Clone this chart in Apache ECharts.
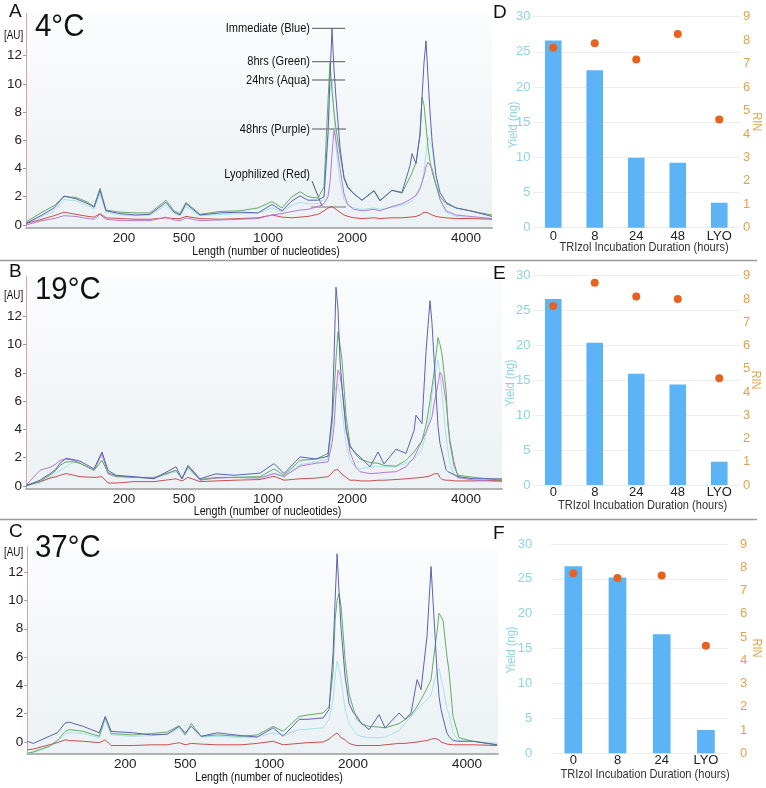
<!DOCTYPE html>
<html><head><meta charset="utf-8">
<script src="https://cdn.jsdelivr.net/npm/echarts@6/dist/echarts.min.js"></script>
<style>html,body{margin:0;padding:0;background:#fff}#c{width:766px;height:788px}</style>
</head><body><div id="c"></div><script>
const F = '"Liberation Sans",Arial,sans-serif';
const NARROW = 0.82;

// x-axis ladder labels (electropherogram migration positions)
const tickPos = [49, 79, 121, 163, 220];
const tickLabels = ['200', '500', '1000', '2000', '4000'];
const auTicks = [0, 2, 4, 6, 8, 10, 12];

// Panel A (4°C)
const tA = [0,8,14,19,25,31,34,37,40,47,55,62,70,74,77,80,87,97,107,116,123,128,133,137,141,146,149,151,152,153,154,155,157,159,161,164,168,174,177,183,188,192,193,195,197,198,199,200,201,202,203,205,207,210,215,222,233];
const blueA = [0.1,0.7,1.2,2.05,1.85,1.5,1.25,2.45,1.0,0.8, 0.7,0.75,1.6,0.9,0.7,1.5,0.7,0.85,0.9,0.85, 1.45,1.0,1.7,2.05,1.75,1.75,2.0,6.5,10.5,13.9, 11.0,9.0,5.5,3.3,2.6,2.2,1.75,2.4,1.7,2.45, 2.3,4.2,5.05,4.35,6.5,9.0,11.5,13.05,10.5,8.0, 6.0,3.5,2.3,1.6,1.2,1.0,0.6];
const greenA = [0.2,0.9,1.35,2.0,1.95,1.6,1.3,2.6,1.05,0.9, 0.85,0.85,1.75,1.0,0.8,1.6,0.75,0.95,1.0,1.2, 1.65,1.2,2.0,2.35,2.0,1.9,2.7,8.8,11.5,9.5, 8.0,6.8,5.0,3.4,2.7,2.2,1.75,2.45,1.75,2.45, 2.25,3.4,3.7,4.4,6.3,9.05,8.5,7.0,5.5,4.5, 3.8,2.8,2.0,1.5,1.2,1.0,0.7];
const aquaA = [0.1,0.6,1.0,1.8,1.7,1.35,1.1,2.2,0.9,0.7, 0.65,0.7,1.4,0.8,0.65,1.3,0.65,0.75,0.8,0.85, 1.2,0.95,1.4,1.6,1.5,1.5,1.8,6.0,9.5,10.2, 8.0,5.5,3.0,1.8,1.4,1.2,1.1,1.2,1.1,1.25, 1.4,1.6,1.7,2.0,2.5,3.0,3.8,5.0,6.2,6.3, 5.5,3.5,1.8,0.9,0.6,0.5,0.45];
const purpleA = [0.0,0.3,0.45,0.65,0.6,0.45,0.4,0.75,0.4,0.3, 0.3,0.3,0.55,0.35,0.3,0.5,0.3,0.35,0.4,0.45, 0.7,0.8,0.95,1.05,1.1,1.3,1.5,2.0,3.0,5.0, 6.7,6.0,4.0,2.2,1.4,1.1,1.0,1.1,1.0,1.3, 1.5,1.8,1.9,2.1,2.6,3.0,3.5,4.1,4.45,4.4, 4.0,2.8,1.8,1.0,0.7,0.6,0.45];
const redA = [0.1,0.4,0.65,0.9,0.75,0.6,0.55,0.8,0.5,0.45, 0.4,0.4,0.5,0.45,0.45,0.6,0.45,0.4,0.45,0.5, 0.7,0.55,0.5,0.55,0.6,0.75,1.0,1.2,1.3,1.3, 1.25,1.1,0.9,0.7,0.6,0.5,0.45,0.5,0.45,0.5, 0.5,0.55,0.55,0.6,0.7,0.8,0.9,0.95,0.85,0.75, 0.7,0.6,0.55,0.5,0.45,0.45,0.4];

// Panel B (19°C)
const tB = [0,7,9,12,15,17,20,24,27,34,38,41,45,54,64,75,78,81,87,95,104,117,124,129,137,145,151,153,154,155,156,157,158,160,162,165,167,172,176,179,185,190,194,195,198,200,202,203,204,206,207,208,210,211,212,214,216,224,238];
const blueB = [0.0,0.4,0.6,0.85,1.2,1.6,1.95,1.85,1.75,1.2, 2.4,1.1,0.75,0.65,0.5,1.35,0.5,1.45,0.5,0.85, 0.75,0.9,1.58,0.87,2.05,1.9,2.1,5.0,9.0,14.05, 12.5,8.9,7.0,4.0,2.75,2.3,2.05,1.35,2.4,1.55, 2.6,2.3,3.9,5.0,4.4,9.5,13.1,11.5,9.0,4.2, 3.0,2.4,1.15,1.0,0.9,0.8,0.65,0.5,0.5];
const greenB = [0.0,0.3,0.5,0.75,1.1,1.45,1.7,1.7,1.6,1.1, 1.8,0.95,0.7,0.6,0.55,1.1,0.55,1.35,0.45,0.6, 0.6,0.65,1.2,0.75,1.8,1.9,2.3,4.5,6.5,9.0, 10.9,10.0,8.9,5.0,2.9,2.2,1.9,1.65,1.6,1.45, 1.4,1.8,2.4,2.6,3.2,4.3,6.0,7.0,8.0,10.5, 10.0,9.3,6.8,4.3,3.0,1.4,0.75,0.6,0.4];
const aquaB = [0.0,0.2,0.35,0.6,0.9,1.1,1.35,1.7,1.6,1.1, 1.8,0.9,0.7,0.6,0.55,1.0,0.55,1.2,0.45,0.55, 0.6,0.6,0.9,0.7,1.5,1.7,1.9,4.0,6.5,7.0, 7.2,6.5,5.3,3.0,1.8,1.3,1.2,1.35,1.35,1.35, 1.35,1.6,1.9,2.0,2.6,3.7,5.0,6.5,7.5,8.9, 8.0,6.5,3.5,2.5,1.5,0.8,0.55,0.5,0.4];
const purpleB = [0.05,1.1,1.2,1.3,1.55,1.8,1.9,1.8,1.6,1.1, 2.25,0.85,0.65,0.6,0.6,1.1,0.5,1.35,0.4,0.55, 0.6,0.55,0.87,0.65,1.4,1.6,1.7,3.0,4.2,6.5, 8.2,7.8,7.0,4.2,2.4,1.3,1.0,0.87,0.9,0.95, 1.0,1.35,2.0,2.3,3.2,3.8,4.5,4.9,5.8,7.2, 8.05,7.8,6.0,4.5,3.2,1.7,0.6,0.4,0.3];
const redB = [0.05,0.3,0.4,0.55,0.65,0.75,0.87,0.75,0.65,0.6, 0.65,0.2,0.2,0.3,0.3,0.5,0.35,0.6,0.3,0.35, 0.4,0.45,0.68,0.4,0.5,0.55,0.65,0.9,1.1,1.22, 1.15,0.95,0.85,0.6,0.4,0.4,0.35,0.35,0.4,0.4, 0.45,0.5,0.55,0.55,0.6,0.65,0.7,0.75,0.85,0.87, 0.6,0.45,0.4,0.4,0.4,0.35,0.35,0.35,0.4];

// Panel C (37°C)
const tC = [0,3,11,15,19,21,28,36,39,42,53,62,70,76,79,82,87,95,107,115,123,128,136,140,148,151,153,154,155,156,157,159,161,163,165,167,171,176,179,186,189,192,195,197,200,202,204,205,206,207,208,210,211,213,216,223,235];
const blueC = [0.05,-0.1,0.4,0.65,1.35,1.4,1.1,0.65,1.8,0.75, 0.65,0.5,0.55,1.1,0.65,1.1,0.4,0.65,0.45,0.35, 1.0,0.4,1.6,1.6,1.7,2.3,6.3,10.0,13.3,10.5, 8.0,4.6,2.7,2.1,1.8,1.35,0.87,1.93,1.0,2.05, 1.6,2.05,4.4,3.7,7.5,12.4,7.5,5.0,3.2,2.3, 1.7,0.6,0.4,0.1,0.05,0.05,-0.2];
const greenC = [-0.8,-0.7,-0.3,0.1,0.75,0.87,0.75,0.4,1.75,0.6, 0.5,0.6,0.7,1.15,0.5,1.3,0.4,0.5,0.4,0.5, 1.1,0.75,1.8,1.9,2.05,2.5,5.0,8.6,10.0,10.5, 9.6,5.8,3.4,2.4,1.6,1.3,1.1,1.05,1.0,1.3, 1.58,1.9,2.5,3.0,3.8,4.4,6.75,7.8,9.1,9.0, 8.6,6.0,5.0,1.8,0.3,0.05,-0.2];
const aquaC = [-0.8,-0.75,-0.35,0.0,0.55,0.65,0.6,0.3,1.6,0.5, 0.4,0.45,0.55,1.0,0.45,1.15,0.35,0.4,0.3,0.35, 0.65,0.5,0.87,0.9,1.0,1.6,3.0,4.6,5.7,5.2, 4.4,2.3,1.3,0.9,0.5,0.4,0.3,0.3,0.35,0.8, 1.34,1.8,2.3,2.6,3.0,3.3,4.5,5.0,5.2,4.5, 3.9,2.3,2.0,0.6,0.1,0.05,-0.1];
const redC = [-0.55,-0.5,-0.2,-0.05,0.15,0.1,0.05,-0.05,0.15,-0.25, -0.25,-0.2,-0.2,-0.05,-0.2,-0.1,-0.15,-0.2,-0.2,-0.1, 0.05,-0.2,-0.1,-0.05,0.0,0.2,0.45,0.55,0.64,0.5, 0.3,0.15,-0.1,-0.2,-0.25,-0.25,-0.25,-0.25,-0.2,-0.1, -0.1,-0.05,0.0,0.05,0.1,0.2,0.25,0.28,0.15,0.0, -0.1,-0.15,-0.15,-0.2,-0.2,-0.2,-0.25];

// Right panels: yield and RIN
const hours5 = ['0', '8', '24', '48', 'LYO'];
const hours4 = ['0', '8', '24', 'LYO'];
const yieldD = [26.6, 22.4, 9.95, 9.25, 3.55];
const rinD = [7.68, 7.87, 7.17, 8.26, 4.61];
const yieldE = [26.65, 20.4, 15.95, 14.4, 3.34];
const rinE = [7.7, 8.7, 8.11, 8.0, 4.59];
const yieldF = [26.8, 25.2, 17.05, 3.34];
const rinF = [7.74, 7.54, 7.65, 4.63];

const zip = (xs, ys) => xs.map((x, i) => [x, ys[i]]);
const COL = {aqua:'#a6e2ec', red:'#cc4f4f', purple:'#b47ad2', green:'#62ad62', blue:'#5c62b4'};
const CYAN = '#8cd3e4', ORANGE = '#e6a24c';

const leftPanels = [
  {t:tA, xmax:233, ymin:-0.2, ymax:15, s:{aqua:aquaA, red:redA, purple:purpleA, green:greenA, blue:blueA}},
  {t:tB, xmax:238, ymin:-0.2, ymax:14.8, s:{aqua:aquaB, red:redB, purple:purpleB, green:greenB, blue:blueB}},
  {t:tC, xmax:235.5, ymin:-0.8, ymax:13.8, s:{aqua:aquaC, red:redC, green:greenC, blue:blueC}}
];
const rightPanels = [
  {cats:hours5, y:yieldD, r:rinD, lm:2, rm:3, cm:2},
  {cats:hours5, y:yieldE, r:rinE, lm:2, rm:3, cm:1},
  {cats:hours4, y:yieldF, r:rinF, lm:19, rm:12, cm:1}
];

const bg = {type:'linear', x:0, y:0, x2:0, y2:1, colorStops:[{offset:0, color:'#fbfcfd'}, {offset:1, color:'#ebf1f4'}]};
const grid = [
  {left:26, top:13.3, width:466, height:214.4, show:true, backgroundColor:bg, borderWidth:0},
  {left:26, top:276.7, width:476, height:212, show:true, backgroundColor:bg, borderWidth:0},
  {left:27.3, top:546.7, width:470.7, height:206.6, show:true, backgroundColor:bg, borderWidth:0},
  {left:532.5, top:16.7, width:207.5, height:211},
  {left:532.5, top:275.7, width:207.5, height:209.3},
  {left:551.2, top:544, width:176.8, height:209.3}
];

const xAxis = [], yAxis = [], series = [];
leftPanels.forEach((p, i) => {
  xAxis.push({gridIndex:i, type:'value', min:0, max:p.xmax,
    axisLine:{show:true, onZero:false, lineStyle:{color:'#b2b2b2', width:2}},
    axisTick:{show:false}, splitLine:{show:false},
    axisLabel:{customValues:tickPos, formatter:v => tickLabels[tickPos.indexOf(v)] || '',
      fontSize:13.5, color:'#222', margin:4, fontFamily:F}});
  yAxis.push({gridIndex:i, type:'value', min:p.ymin, max:p.ymax,
    axisLine:{show:true, onZero:false, lineStyle:{color:'#dca2a2', width:1}},
    axisTick:{show:true, length:3, customValues:auTicks, lineStyle:{color:'#999'}},
    axisLabel:{customValues:auTicks, fontSize:13.5, color:'#222', margin:4, fontFamily:F},
    splitLine:{show:false}});
  const yi = yAxis.length - 1;
  Object.keys(p.s).forEach(k => {
    series.push({type:'line', xAxisIndex:i, yAxisIndex:yi, data:zip(p.t, p.s[k]),
      showSymbol:false, symbol:'none', silent:true, animation:false,
      lineStyle:{color:COL[k], width:1}, z:2});
  });
});
rightPanels.forEach((p, j) => {
  const gi = 3 + j;
  xAxis.push({gridIndex:gi, type:'category', data:p.cats,
    axisLine:{show:false}, axisTick:{show:false},
    axisLabel:{fontSize:13, color:'#222', margin:p.cm, fontFamily:F}});
  yAxis.push({gridIndex:gi, type:'value', min:0, max:30, interval:5,
    axisLine:{show:false}, axisTick:{show:false},
    axisLabel:{color:CYAN, fontSize:13, margin:p.lm, fontFamily:F},
    splitLine:{lineStyle:{color:'#ededed'}}});
  const yl = yAxis.length - 1;
  yAxis.push({gridIndex:gi, type:'value', position:'right', min:0, max:9, interval:1,
    axisLine:{show:false}, axisTick:{show:false},
    axisLabel:{color:ORANGE, fontSize:13, margin:p.rm, fontFamily:F},
    splitLine:{show:false}});
  const yr = yAxis.length - 1;
  series.push({type:'bar', xAxisIndex:xAxis.length - 1, yAxisIndex:yl, data:p.y,
    barWidth:'40%', itemStyle:{color:'#5cb3f6'}, animation:false, silent:true});
  series.push({type:'scatter', xAxisIndex:xAxis.length - 1, yAxisIndex:yr, data:p.r,
    symbolSize:8, itemStyle:{color:'#e8621f', opacity:1}, animation:false, silent:true, z:5});
});

const txt = (x, y, text, size, opt) => {
  opt = opt || {};
  return {type:'text', x:x, y:y, silent:true, rotation:opt.rot || 0,
    scaleX:opt.narrow === false ? 1 : NARROW, scaleY:1,
    style:{text:text, fontSize:size, fontFamily:F, fill:opt.fill || '#111',
      textAlign:opt.align || 'left', textVerticalAlign:'middle'}};
};
const ln = (x1, y1, x2, y2, color, w) => ({type:'line', silent:true,
  shape:{x1:x1, y1:y1, x2:x2, y2:y2}, style:{stroke:color || '#555', lineWidth:w || 1}});

const TITLE = 'TRIzol Incubation Duration (hours)';
const LEN = 'Length (number of nucleotides)';
const graphic = [
  ln(0, 260.5, 757, 260.5, '#9a9a9a', 1.5),
  ln(0, 519.5, 757, 519.5, '#9a9a9a', 1.5),
  txt(9, 11.5, 'A', 19, {narrow:false}), txt(9, 271.5, 'B', 19, {narrow:false}), txt(9, 531.5, 'C', 19, {narrow:false}),
  txt(493, 12.5, 'D', 19, {narrow:false}), txt(493, 274, 'E', 19, {narrow:false}), txt(493, 534, 'F', 19, {narrow:false}),
  {type:'text', x:35, y:27, silent:true, scaleX:0.92, style:{text:'4°C', fontSize:32, fontFamily:F, fill:'#111', textVerticalAlign:'middle'}},
  {type:'text', x:35, y:290, silent:true, scaleX:0.92, style:{text:'19°C', fontSize:32, fontFamily:F, fill:'#111', textVerticalAlign:'middle'}},
  {type:'text', x:35, y:548, silent:true, scaleX:0.92, style:{text:'37°C', fontSize:32, fontFamily:F, fill:'#111', textVerticalAlign:'middle'}},
  txt(4, 36, '[AU]', 12), txt(4, 296, '[AU]', 12), txt(4, 552.5, '[AU]', 12),
  txt(266, 251.7, LEN, 13, {align:'center'}),
  txt(267.5, 511.7, LEN, 13, {align:'center'}),
  txt(269, 777, LEN, 13, {align:'center'}),
  txt(310, 28.3, 'Immediate (Blue)', 13.5, {align:'right'}),
  txt(310, 61.7, '8hrs (Green)', 13.5, {align:'right'}),
  txt(310, 80, '24hrs (Aqua)', 13.5, {align:'right'}),
  txt(310, 129, '48hrs (Purple)', 13.5, {align:'right'}),
  txt(310, 174.3, 'Lyophilized (Red)', 13.5, {align:'right'}),
  ln(312, 28.3, 345, 28.3), ln(312, 61.7, 345, 61.7), ln(312, 80, 345, 80),
  ln(312, 129, 346, 129), ln(312, 181, 322, 206), ln(311, 207, 346, 207, '#777', 1.2),
  txt(644, 247.3, TITLE, 13.5, {align:'center', fill:'#333'}),
  txt(642.5, 505.7, TITLE, 13.5, {align:'center', fill:'#333'}),
  txt(645, 774, TITLE, 13.5, {align:'center', fill:'#333'}),
  txt(513, 125, 'Yield (ng)', 13.5, {align:'center', fill:CYAN, rot:Math.PI / 2}),
  txt(510.5, 383, 'Yield (ng)', 13.5, {align:'center', fill:CYAN, rot:Math.PI / 2}),
  txt(511.7, 650, 'Yield (ng)', 13.5, {align:'center', fill:CYAN, rot:Math.PI / 2}),
  txt(756.5, 121.7, 'RIN', 13.5, {align:'center', fill:ORANGE, rot:-Math.PI / 2}),
  txt(755.5, 380, 'RIN', 13.5, {align:'center', fill:ORANGE, rot:-Math.PI / 2}),
  txt(756.5, 648, 'RIN', 13.5, {align:'center', fill:ORANGE, rot:-Math.PI / 2})
];

const chart = echarts.init(document.getElementById('c'), null, {renderer:'canvas'});
chart.setOption({animation:false, textStyle:{fontFamily:F}, grid, xAxis, yAxis, series, graphic});
</script></body></html>
